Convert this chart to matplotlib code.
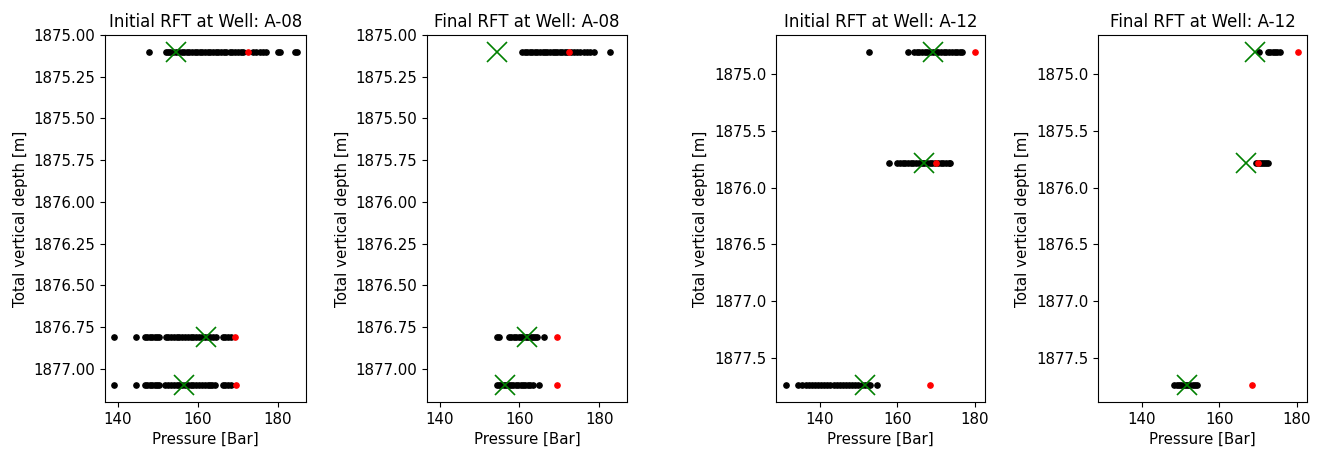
import matplotlib
matplotlib.use("Agg")
import matplotlib.pyplot as plt

# well names and RFT depths [m]
wells = ["A-08", "A-12"]
depths_a08 = [1875.10, 1876.81, 1877.10]
depths_a12 = [1874.80, 1875.78, 1877.745]

# observed pressures (green crosses) and reference points (red)
observed_a08 = [154.5, 162.0, 156.5]
observed_a12 = [169.2, 166.9, 151.7]
red_a08 = [172.5, 169.3, 169.5]
red_a12 = [180.2, 170.0, 168.5]

# ensemble pressures per depth, initial
init_a08 = [
    [147.8, 152.0, 152.6, 153.1, 153.8, 154.5, 155.2, 156.0, 156.6, 157.3, 157.9, 158.5,
     159.2, 159.8, 160.5, 161.0, 161.7, 162.4, 163.0, 163.8, 164.5, 165.0, 165.8, 166.5,
     167.1, 167.9, 168.5, 169.2, 170.0, 170.8, 171.3, 173.8, 174.6, 175.4, 176.2, 177.0,
     180.0, 180.5, 184.3, 184.7],
    [139.1, 144.6, 146.7, 147.3, 148.0, 148.6, 149.2, 149.8, 150.2, 152.0, 152.6, 153.3,
     154.0, 154.7, 155.4, 156.1, 156.8, 157.5, 158.2, 158.9, 159.6, 160.3, 161.0, 161.7,
     162.4, 163.1, 163.8, 164.5, 166.2, 166.8, 167.5, 168.2],
    [139.1, 144.6, 146.7, 147.3, 148.0, 148.6, 149.2, 149.8, 150.2, 151.9, 152.6, 153.3,
     154.0, 154.7, 155.4, 156.1, 156.8, 157.5, 158.2, 158.9, 159.6, 160.3, 161.0, 161.7,
     162.4, 163.1, 163.6, 164.2, 166.2, 166.8, 167.5, 168.2],
]
init_a12 = [
    [152.7, 162.7, 164.3, 165.0, 165.7, 166.4, 167.1, 167.8, 168.5, 169.2, 169.9, 170.6,
     171.3, 172.0, 172.7, 173.4, 174.1, 174.8, 175.5, 176.2, 176.7],
    [157.8, 160.0, 160.7, 161.4, 162.1, 162.8, 163.5, 164.2, 164.9, 165.6, 166.3, 167.0,
     167.7, 168.4, 169.1, 169.8, 170.5, 171.2, 171.9, 172.6, 173.3, 173.7],
    [131.2, 134.5, 135.5, 136.5, 137.3, 138.0, 138.8, 139.6, 140.4, 141.2, 142.0, 142.8,
     143.6, 144.4, 145.2, 146.0, 146.8, 147.6, 148.4, 149.2, 150.0, 150.8, 151.6, 152.4,
     153.0, 154.9],
]

# ensemble pressures per depth, final
final_a08 = [
    [160.7, 161.3, 162.0, 162.6, 163.2, 163.9, 164.5, 165.1, 165.8, 166.4, 167.0, 167.6,
     168.3, 168.9, 169.5, 170.1, 170.8, 171.4, 172.0, 173.0, 173.7, 174.5, 175.3, 176.1,
     176.9, 177.7, 178.6, 182.8],
    [154.4, 154.8, 157.4, 158.0, 158.6, 159.2, 159.8, 160.4, 161.0, 161.6, 162.2, 162.8,
     163.4, 164.0, 164.5, 166.2],
    [154.4, 154.9, 155.5, 156.1, 156.7, 157.3, 157.9, 158.5, 159.1, 159.7, 160.3, 160.9,
     161.5, 162.1, 162.7, 163.3, 165.0],
]
final_a12 = [
    [170.2, 172.6, 173.2, 173.8, 174.4, 175.0, 175.8],
    [169.4, 170.0, 170.5, 171.0, 171.5, 172.0, 172.6],
    [148.3, 149.0, 149.6, 150.2, 150.8, 151.4, 152.0, 152.6, 153.2, 153.8, 154.3],
]

plt.rcParams["font.size"] = 10.8

W, H = 1322, 450
fig = plt.figure(figsize=(W / 100, H / 100), dpi=100)

# axes boxes in pixels: left, width
boxes = [(105, 201), (427, 200), (776, 209), (1098, 209)]
bottom, height = 48, 367


def rft_panel(ax, depths, ensemble, observed, red, title):
    for d, vals in zip(depths, ensemble):
        ax.plot(vals, [d] * len(vals), "o", color="k", markersize=3.8, linestyle="none")
    ax.plot(red, depths, "o", color="r", markersize=3.8, linestyle="none")
    ax.plot(observed, depths, "x", color="g", markersize=14, markeredgewidth=1.2,
            linestyle="none")
    ax.set_title(title, fontsize=12)
    ax.set_xlabel("Pressure [Bar]")
    ax.set_ylabel("Total vertical depth [m]")
    ax.ticklabel_format(useOffset=False, axis="y")


axes = []
for i, (left, width) in enumerate(boxes):
    share = axes[i - 1] if i % 2 == 1 else None
    ax = fig.add_axes([left / W, bottom / H, width / W, height / H], sharex=share)
    axes.append(ax)

rft_panel(axes[0], depths_a08, init_a08, observed_a08, red_a08, "Initial RFT at Well: " + wells[0])
rft_panel(axes[1], depths_a08, final_a08, observed_a08, red_a08, "Final RFT at Well: " + wells[0])
rft_panel(axes[2], depths_a12, init_a12, observed_a12, red_a12, "Initial RFT at Well: " + wells[1])
rft_panel(axes[3], depths_a12, final_a12, observed_a12, red_a12, "Final RFT at Well: " + wells[1])

for ax in axes:
    ax.invert_yaxis()

fig.savefig("out.png", dpi=100)
